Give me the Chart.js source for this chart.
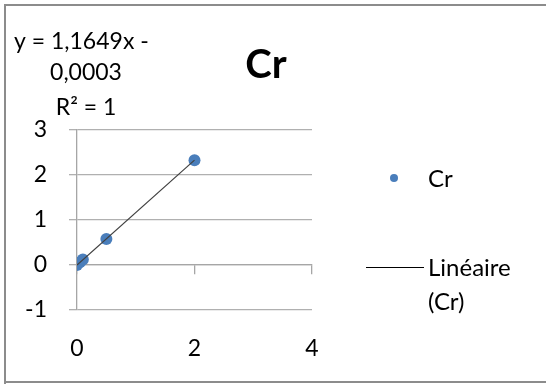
<!DOCTYPE html>
<html>
<head>
<meta charset="utf-8">
<script src="https://cdn.jsdelivr.net/npm/chart.js@4"></script>
<style>
  html, body { margin: 0; padding: 0; background: #fff; }
  #wrap { position: relative; width: 546px; height: 384px; }
</style>
</head>
<body>
<div id="wrap"><canvas id="c" width="546" height="384"></canvas></div>
<script>
const seriesName = 'Cr';
const xValues = [0, 0.05, 0.1, 0.5, 2];
const yValues = [0, 0.06, 0.12, 0.58, 2.33];
// trendline end points
const trendX = [0, 2];
const trendY = [-0.0003, 2.33];
const yTicks = [-1, 0, 1, 2, 3];
const xTicks = [0, 2, 4];
const eqLines = ['y = 1,1649x -', '0,0003', 'R² = 1'];
const trendLabel = ['Linéaire', '(Cr)'];

const FONT = 'Lato, "Open Sans", sans-serif';
const blue = '#4a7ebb';

// frame, title, equation and legend drawn on the canvas
const extras = {
  id: 'extras',
  beforeDraw(chart) {
    const ctx = chart.ctx;
    ctx.save();
    ctx.fillStyle = '#fff';
    ctx.fillRect(0, 0, chart.width, chart.height);
    ctx.strokeStyle = '#8c8c8c';
    ctx.lineWidth = 2;
    ctx.beginPath();
    ctx.moveTo(5, chart.height);
    ctx.lineTo(5, 5);
    ctx.lineTo(chart.width + 2, 5);
    ctx.moveTo(5, chart.height - 2);
    ctx.lineTo(chart.width + 2, chart.height - 2);
    ctx.stroke();
    ctx.restore();
  },
  afterDraw(chart) {
    const ctx = chart.ctx;
    ctx.save();
    ctx.fillStyle = '#000';
    ctx.textBaseline = 'middle';
    ctx.font = 'bold 40px ' + FONT;
    ctx.textAlign = 'center';
    ctx.fillText(seriesName, 266, 65);

    ctx.font = '23px ' + FONT;
    ctx.textAlign = 'left';
    ctx.fillText(eqLines[0], 14, 42);
    ctx.textAlign = 'center';
    ctx.fillText(eqLines[1], 86, 73);
    ctx.fillText(eqLines[2], 86, 108);

    // legend
    ctx.fillStyle = blue;
    ctx.beginPath();
    ctx.arc(394, 178, 4, 0, Math.PI * 2);
    ctx.fill();
    ctx.fillStyle = '#000';
    ctx.textAlign = 'left';
    ctx.font = '24px ' + FONT;
    ctx.fillText(seriesName, 428, 179);
    ctx.strokeStyle = '#000';
    ctx.lineWidth = 1;
    ctx.beginPath();
    ctx.moveTo(366, 267.5);
    ctx.lineTo(424, 267.5);
    ctx.stroke();
    ctx.fillText(trendLabel[0], 428, 268);
    ctx.fillText(trendLabel[1], 428, 302);
    ctx.restore();
  }
};

new Chart(document.getElementById('c'), {
  type: 'scatter',
  data: {
    datasets: [
      {
        label: seriesName,
        data: xValues.map((x, i) => ({ x: x, y: yValues[i] })),
        backgroundColor: blue,
        borderColor: blue,
        borderWidth: 0,
        pointRadius: 6,
        pointHoverRadius: 6,
        order: 2
      },
      {
        label: trendLabel.join(' '),
        type: 'line',
        data: trendX.map((x, i) => ({ x: x, y: trendY[i] })),
        borderColor: '#404040',
        borderWidth: 1.2,
        pointRadius: 0,
        fill: false,
        order: 1
      }
    ]
  },
  options: {
    responsive: false,
    animation: false,
    layout: { padding: { left: 0, top: 130, right: 234, bottom: 0 } },
    plugins: { legend: { display: false }, tooltip: { enabled: false } },
    scales: {
      x: {
        type: 'linear',
        min: 0, max: 4,
        afterBuildTicks: s => { s.ticks = xTicks.map(v => ({ value: v })); },
        afterFit: s => { s.height = 74; },
        grid: { display: false, drawTicks: false },
        border: { display: false },
        ticks: { padding: 25, color: '#000', font: { family: FONT, size: 23 } }
      },
      xAxisLine: {
        type: 'linear',
        axis: 'x',
        min: 0, max: 4,
        position: { y: 0 },
        afterBuildTicks: s => { s.ticks = xTicks.map(v => ({ value: v })); },
        grid: { drawOnChartArea: false, drawTicks: true, tickLength: 9, color: '#a6a6a6', lineWidth: 1.3 },
        border: { display: true, color: '#a6a6a6', width: 1.3 },
        ticks: { display: false }
      },
      y: {
        type: 'linear',
        min: -1, max: 3,
        afterBuildTicks: s => { s.ticks = yTicks.map(v => ({ value: v })); },
        afterFit: s => { s.width = 77; },
        grid: { color: '#b0b0b0', lineWidth: 1.3, tickLength: 8 },
        border: { display: true, color: '#a6a6a6', width: 1.3 },
        ticks: { padding: 22, color: '#000', font: { family: FONT, size: 23 } }
      }
    }
  },
  plugins: [extras]
});
</script>
</body>
</html>
